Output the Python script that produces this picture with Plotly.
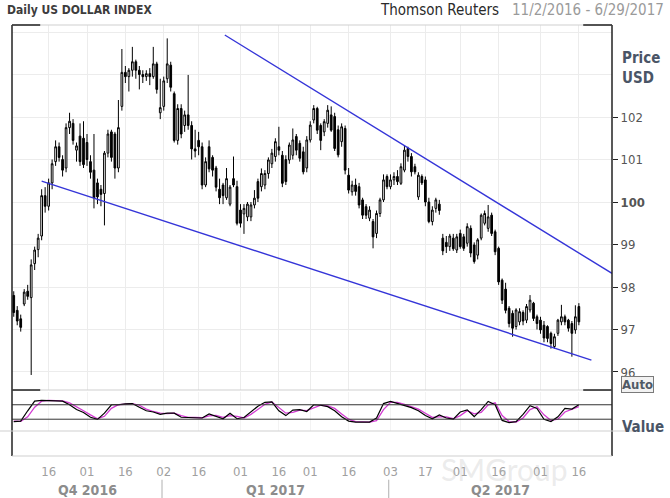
import pandas as pd
import plotly.graph_objects as go

# axis spans every weekday of the period in the header
AXIS_START = "2016-11-02"
AXIS_END = "2017-06-29"

# daily candles (Nov 2 2016 .. Jun 16 2017)
OPEN = [97.80, 97.45, 97.25, 97.60, 97.90, 97.75, 98.55, 98.88, 99.20, 100.15, 99.90, 100.45, 100.95, 101.30, 101.00, 100.80, 101.75, 101.85, 101.22, 101.55, 101.50,  # nov
        101.40, 100.95, 100.75, 100.45, 100.30, 100.20, 101.15, 101.65, 101.60, 100.80, 102.25, 103.05, 102.95, 103.10, 103.30, 103.10, 103.00, 102.95, 103.02, 102.95, 103.25, 102.10,  # dec
        102.25, 102.90, 103.22, 102.55, 101.45, 102.20, 101.80, 102.05, 101.80, 101.25, 101.45, 101.30, 100.40, 101.30, 101.05, 100.80, 100.30, 100.40, 100.10, 99.95, 100.55, 100.36,  # jan
        99.81, 99.72, 99.65, 99.65, 99.93, 100.48, 100.36, 100.40, 100.67, 100.90, 101.07, 101.30, 101.10, 101.00, 100.99, 101.10, 101.54, 101.38, 101.18, 100.80,  # feb
        101.46, 101.93, 102.20, 101.80, 101.65, 101.85, 102.05, 102.01, 101.70, 101.42, 101.73, 100.63, 100.24, 100.40, 100.36, 100.05, 99.89, 99.62, 99.54, 99.26, 99.73, 100.05, 100.60,  # mar
        100.36, 100.52, 100.60, 100.44, 100.75, 101.26, 101.07, 100.83, 100.12, 100.60, 100.52, 100.00, 99.54, 99.85, 99.95, 99.15, 99.05, 98.95, 99.15, 98.87,  # apr
        99.26, 99.18, 99.03, 99.38, 98.99, 98.75, 99.15, 99.50, 99.38, 99.69, 99.30, 98.91, 98.16, 97.95, 97.50, 97.38, 97.07, 97.18, 97.40, 97.22, 97.46, 97.62, 97.30,  # may
        97.22, 97.10, 97.07, 96.91, 96.60, 96.91, 97.18, 97.30, 97.22, 97.14, 96.99, 97.54]  # jun
HIGH = [97.90, 97.55, 97.35, 97.95, 98.05, 98.65, 98.95, 99.25, 100.30, 100.35, 100.55, 101.00, 101.45, 101.40, 101.10, 101.85, 102.10, 101.95, 101.40, 101.85, 101.90,
        101.60, 101.10, 101.60, 100.55, 100.40, 101.20, 101.70, 101.70, 101.65, 102.40, 103.60, 103.20, 103.15, 103.65, 103.35, 103.20, 103.10, 103.10, 103.15, 103.65, 103.30, 102.90,
        102.95, 103.85, 103.30, 102.60, 102.30, 102.30, 102.15, 102.99, 101.90, 101.70, 101.65, 101.40, 101.05, 101.45, 101.10, 100.85, 100.55, 100.45, 100.80, 100.40, 101.07, 100.50,
        99.95, 99.95, 100.00, 100.00, 100.28, 100.55, 100.79, 100.75, 101.05, 101.25, 101.50, 101.77, 101.20, 101.10, 101.40, 101.73, 101.60, 101.45, 101.30, 101.55,
        101.90, 102.28, 102.24, 101.85, 101.95, 102.28, 102.25, 102.10, 101.80, 101.85, 101.80, 100.80, 100.50, 100.55, 100.45, 100.10, 99.95, 99.90, 99.60, 99.80, 100.10, 100.65, 100.65,
        100.65, 100.70, 100.75, 100.91, 101.34, 101.30, 101.15, 100.90, 100.70, 100.65, 100.60, 100.10, 99.90, 100.10, 100.05, 99.25, 99.20, 99.25, 99.25, 99.25,
        99.35, 99.25, 99.50, 99.45, 99.05, 99.15, 99.73, 99.80, 99.93, 99.75, 99.35, 98.95, 98.20, 98.10, 97.55, 97.45, 97.50, 97.50, 97.45, 97.60, 97.81, 97.65, 97.35,
        97.30, 97.20, 97.10, 96.95, 96.90, 97.25, 97.58, 97.35, 97.25, 97.20, 97.57, 97.62]
LOW = [97.30, 97.10, 96.95, 97.55, 97.70, 95.93, 98.40, 98.70, 99.10, 99.75, 99.80, 100.30, 100.85, 100.95, 100.60, 100.70, 101.60, 101.35, 100.95, 100.85, 100.80,
       100.85, 100.55, 99.85, 99.95, 99.90, 99.45, 101.05, 100.95, 100.55, 100.70, 102.15, 102.80, 102.60, 102.95, 102.90, 102.65, 102.80, 102.85, 102.75, 102.90, 102.55, 101.95,
       102.15, 102.80, 102.60, 101.40, 101.35, 101.50, 101.65, 101.70, 101.00, 101.05, 101.10, 100.30, 100.35, 100.70, 100.60, 100.25, 99.95, 99.95, 100.05, 99.90, 100.35, 99.45,
       99.40, 99.25, 99.55, 99.55, 99.85, 100.00, 100.25, 100.30, 100.55, 100.80, 100.95, 101.10, 100.35, 100.40, 100.90, 101.00, 101.10, 100.95, 100.65, 100.70,
       101.40, 101.85, 101.60, 101.22, 101.55, 101.75, 101.65, 101.20, 101.05, 101.30, 100.65, 100.20, 100.15, 100.15, 99.85, 99.60, 99.60, 99.55, 98.91, 99.15, 99.65, 100.00, 100.30,
       100.30, 100.40, 100.40, 100.40, 100.70, 100.95, 100.60, 100.65, 100.05, 100.40, 99.90, 99.50, 99.45, 99.75, 99.70, 98.75, 98.80, 98.85, 98.85, 98.80,
       98.90, 98.85, 98.95, 98.70, 98.55, 98.65, 99.10, 99.45, 99.30, 99.20, 98.75, 98.05, 97.60, 97.38, 97.05, 96.83, 97.00, 97.10, 97.10, 97.15, 97.40, 97.20, 97.00,
       96.90, 96.70, 96.70, 96.55, 96.55, 96.85, 97.10, 97.10, 96.95, 96.36, 96.90, 97.10]
CLOSE = [97.40, 97.20, 97.05, 97.88, 97.78, 98.52, 98.87, 99.15, 100.15, 99.90, 100.45, 100.90, 101.30, 101.05, 100.75, 101.75, 101.90, 101.45, 101.32, 100.95, 100.88,
         101.00, 100.70, 100.10, 100.12, 100.18, 101.15, 101.60, 101.05, 100.80, 101.75, 103.05, 102.95, 103.10, 103.30, 103.10, 103.00, 102.95, 103.02, 102.95, 103.25, 102.65, 102.22,
         102.85, 103.25, 102.70, 101.45, 102.20, 101.60, 102.05, 101.80, 101.25, 101.20, 101.30, 100.40, 100.95, 100.78, 100.75, 100.35, 100.10, 100.15, 100.55, 100.35, 100.40, 99.50,
         99.50, 99.85, 99.95, 99.93, 100.09, 100.09, 100.67, 100.67, 100.99, 101.15, 101.42, 101.22, 100.44, 100.48, 101.34, 101.46, 101.22, 101.03, 100.71, 101.46,
         101.81, 102.20, 101.69, 101.45, 101.89, 102.16, 101.69, 101.26, 101.11, 101.77, 100.75, 100.28, 100.40, 100.25, 99.93, 99.69, 99.69, 99.81, 99.18, 99.73, 100.05, 100.52, 100.36,
         100.52, 100.60, 100.48, 100.83, 101.22, 101.07, 100.71, 100.71, 100.63, 100.45, 100.00, 99.54, 99.81, 100.05, 99.80, 98.85, 98.95, 99.20, 98.90, 99.18,
         98.95, 98.91, 99.42, 98.80, 98.60, 99.11, 99.69, 99.73, 99.65, 99.26, 98.83, 98.12, 97.69, 97.45, 97.14, 97.03, 97.46, 97.42, 97.20, 97.54, 97.69, 97.26, 97.14,
         96.99, 96.80, 96.79, 96.67, 96.83, 97.22, 97.30, 97.18, 97.03, 96.91, 97.30, 97.18]

# slow stochastic, every second trading day
STOCH_K = [10, 12, 55, 95, 98, 97, 97, 95, 80, 60, 48, 28, 19, 45, 80, 80, 84, 85, 70, 55,
           50, 40, 45, 45, 28, 27, 27, 25, 42, 33, 22, 45, 22, 27, 50, 74, 90, 92, 55, 35,
           58, 60, 52, 80, 78, 72, 55, 30, 12, 8, 8, 8, 25, 85, 94, 85, 78, 68, 55, 35,
           22, 38, 25, 20, 50, 59, 31, 60, 94, 80, 15, 6, 10, 40, 76, 65, 20, 10, 30, 65, 62, 80]
STOCH_D = [12, 11, 30, 70, 95, 98, 97, 96, 88, 70, 55, 38, 22, 32, 65, 80, 82, 85, 78, 62,
           52, 45, 43, 45, 35, 28, 27, 26, 34, 36, 28, 35, 32, 25, 40, 62, 82, 92, 70, 45,
           48, 58, 56, 68, 78, 75, 65, 42, 20, 10, 8, 8, 14, 60, 90, 90, 82, 73, 62, 45,
           28, 30, 30, 22, 35, 55, 42, 48, 80, 88, 35, 10, 8, 25, 60, 72, 38, 15, 20, 50, 62, 72]
STOCH_LEVELS = [20, 80]

# hand drawn trend lines (trading day index, price)
LOWER_TREND_DAY = [8.0, 165.6]
LOWER_TREND_PRICE = [100.49, 96.28]
UPPER_TREND_DAY = [60.5, 171.5]
UPPER_TREND_PRICE = [103.93, 98.32]

TICK_DATES = ["2016-11-16", "2016-12-01", "2016-12-16", "2017-01-02", "2017-01-16",
              "2017-02-01", "2017-02-16", "2017-03-01", "2017-03-16", "2017-04-03",
              "2017-04-17", "2017-05-01", "2017-05-16", "2017-06-01", "2017-06-16"]
PRICE_TICKS = [96, 97, 98, 99, 100, 101, 102]

dates = pd.bdate_range(AXIS_START, AXIS_END)
days = list(range(len(CLOSE)))
stoch_days = days[::2]
xr = [-0.5, len(dates) - 0.5]
tick_pos = [dates.get_loc(pd.Timestamp(d)) for d in TICK_DATES]
tick_txt = [pd.Timestamp(d).strftime("%d") for d in TICK_DATES]

qser = pd.Series(range(len(dates)), index=dates)
quarters = qser.groupby(dates.to_period("Q"))
q_mid = [(g.iloc[0] + g.iloc[-1]) / 2 for _, g in quarters]
q_lab = ["Q%d %d" % (p.quarter, p.year) for p, _ in quarters]
q_edges = [g.iloc[0] - 0.5 for _, g in quarters][1:]

FONT = "DejaVu Sans Condensed, DejaVu Sans, sans-serif"
GRID = "#ececec"
BLUE = "#3535d8"

fig = go.Figure()
fig.add_trace(go.Candlestick(
    x=days, open=OPEN, high=HIGH, low=LOW, close=CLOSE,
    increasing=dict(line=dict(color="black", width=1), fillcolor="white"),
    decreasing=dict(line=dict(color="black", width=1), fillcolor="black"),
    whiskerwidth=0, showlegend=False, hoverinfo="skip"))
fig.add_trace(go.Scatter(x=LOWER_TREND_DAY, y=LOWER_TREND_PRICE, mode="lines",
                         line=dict(color=BLUE, width=1.4), showlegend=False))
fig.add_trace(go.Scatter(x=UPPER_TREND_DAY, y=UPPER_TREND_PRICE, mode="lines",
                         line=dict(color=BLUE, width=1.4), showlegend=False))
# last price marker on the price axis
fig.add_trace(go.Scatter(x=[xr[1] + 0.8], y=[CLOSE[-1]], mode="markers", cliponaxis=False,
                         marker=dict(symbol="diamond", size=9, color="black"), showlegend=False))

fig.add_trace(go.Scatter(x=stoch_days, y=STOCH_D, mode="lines", xaxis="x2", yaxis="y2",
                         line=dict(color="#d23ad2", width=1.3), showlegend=False))
fig.add_trace(go.Scatter(x=stoch_days, y=STOCH_K, mode="lines", xaxis="x2", yaxis="y2",
                         line=dict(color="black", width=1.2), showlegend=False))

for lvl in STOCH_LEVELS:
    fig.add_shape(type="line", xref="x2 domain", yref="y2", x0=0, x1=1, y0=lvl, y1=lvl,
                  line=dict(color="#333333", width=1))

# frame: left border, right border, pane separators with dark corners
line_k = dict(color="#222222", width=1.5)
line_g = dict(color="#cfcfcf", width=1)
fig.add_shape(type="line", xref="paper", yref="paper", x0=0, x1=0, y0=0, y1=1, line=line_k)
fig.add_shape(type="line", xref="paper", yref="paper", x0=1, x1=1, y0=0, y1=1, line=line_k)
for yy in [1, 0.1531]:
    fig.add_shape(type="line", xref="paper", yref="paper", x0=0, x1=1, y0=yy, y1=yy, line=line_g)
    fig.add_shape(type="line", xref="paper", yref="paper", x0=0, x1=0.047, y0=yy, y1=yy, line=line_k)
    fig.add_shape(type="line", xref="paper", yref="paper", x0=0.952, x1=1, y0=yy, y1=yy, line=line_k)
fig.add_shape(type="line", xref="paper", yref="paper", x0=-0.02, x1=1.05, y0=0.058, y1=0.058, line=line_g)
fig.add_shape(type="line", xref="paper", yref="paper", x0=0, x1=1, y0=0, y1=0, line=line_g)
for e in q_edges:
    fig.add_shape(type="line", xref="x3", yref="paper", x0=e, x1=e, y0=-0.055, y1=-0.1,
                  line=dict(color="#b0b0b0", width=1))

ann = []
ann.append(dict(text="<b>Daily US DOLLAR INDEX</b>", x=-0.012, y=1.035, xanchor="left",
                font=dict(size=12, color="#3c3c3c")))
ann.append(dict(text="Thomson Reuters", x=0.61, y=1.035, xanchor="left",
                font=dict(size=15, color="#2a2a2a")))
ann.append(dict(text="11/2/2016 - 6/29/2017", x=0.83, y=1.035, xanchor="left",
                font=dict(size=15, color="#9a9a9a")))
ann.append(dict(text="<b>Price</b>", x=1.013, y=0.923, xanchor="left",
                font=dict(size=15, color="#4a5566")))
ann.append(dict(text="<b>USD</b>", x=1.013, y=0.877, xanchor="left",
                font=dict(size=15, color="#4a5566")))
ann.append(dict(text="<b>Auto</b>", x=1.015, y=0.165, xanchor="left",
                font=dict(size=13, color="#505a66"), bordercolor="#7a7a7a", borderwidth=1,
                borderpad=0, bgcolor="#f2f2f2"))
ann.append(dict(text="<b>Value</b>", x=1.013, y=0.067, xanchor="left",
                font=dict(size=15, color="#4a5566")))
ann.append(dict(text="SMGroup", x=0.93, y=-0.03, font=dict(size=30, color="rgba(190,190,190,0.3)",
                family="Lato")))
for a in ann:
    a.update(xref="paper", yref="paper", showarrow=False, yanchor="middle")
    a["font"].setdefault("family", FONT)
for m, lab in zip(q_mid, q_lab):
    ann.append(dict(text="<b>" + lab + "</b>", x=m, y=-0.079, xref="x3", yref="paper",
                    showarrow=False, yanchor="middle",
                    font=dict(family=FONT, size=14, color="#8c8c8c")))

price_txt = ["<b>%d</b>" % p if p == 100 else "%d" % p for p in PRICE_TICKS]

fig.update_layout(
    width=670, height=498, margin=dict(l=12, r=58, t=25, b=42),
    paper_bgcolor="white", plot_bgcolor="white", font=dict(family=FONT),
    annotations=ann,
    xaxis=dict(domain=[0, 1], range=xr, anchor="y", rangeslider=dict(visible=False),
               tickvals=tick_pos, showticklabels=False, ticks="", showgrid=True,
               gridcolor=GRID, zeroline=False, automargin=False),
    yaxis=dict(domain=[0.1531, 1], range=[95.576, 104.165], side="right", anchor="x",
               tickvals=PRICE_TICKS, ticktext=price_txt, ticks="outside", ticklen=5,
               tickcolor="#222222", tickfont=dict(size=13, color="#555555"),
               showgrid=True, gridcolor=GRID, zeroline=False, automargin=False,
               minor=dict(tickmode="linear", tick0=0, dtick=1, showgrid=True,
                          gridcolor=GRID, ticks="")),
    xaxis2=dict(domain=[0, 1], range=xr, anchor="y2", tickvals=tick_pos,
                showticklabels=False, ticks="", showgrid=True, gridcolor="#f3f3f3",
                zeroline=False, automargin=False),
    yaxis2=dict(domain=[0.058, 0.1485], range=[-29, 133], anchor="x2", side="right",
                showticklabels=False, ticks="", showgrid=False, zeroline=False,
                automargin=False),
    xaxis3=dict(domain=[0, 1], range=xr, anchor="y3", tickvals=tick_pos, ticktext=tick_txt,
                ticks="", ticklabelstandoff=6, showgrid=False, zeroline=False,
                automargin=False, tickfont=dict(size=13, color="#a0a0a0")),
    yaxis3=dict(domain=[0, 0.058], range=[0, 1], anchor="x3", showticklabels=False,
                ticks="", showgrid=False, zeroline=False, automargin=False),
)

# the page's default body margin would push the figure 8px down and right
fig.write_html("out.html", config={"displayModeBar": False},
               post_script="document.body.style.margin='0';")
